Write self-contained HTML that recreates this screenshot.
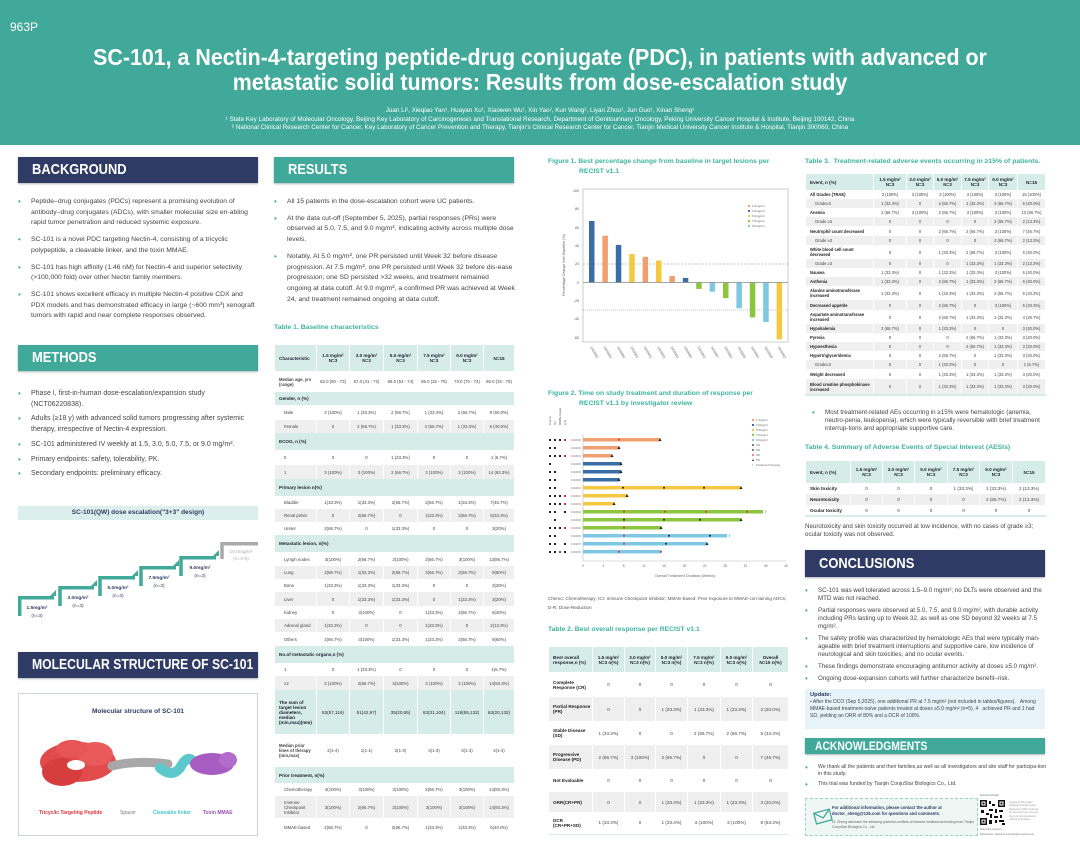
<!DOCTYPE html>
<html><head><meta charset="utf-8">
<style>
*{margin:0;padding:0;box-sizing:border-box}
body{width:1080px;height:856px;position:relative;background:#fff;font-family:"Liberation Sans",sans-serif;color:#333;overflow:hidden}
.a{position:absolute}
.hdr{position:absolute;color:#fff;font-weight:bold;font-size:15px;padding-left:14px;line-height:26px;height:26px;box-shadow:0 1px 2px rgba(0,0,0,.3);white-space:nowrap;overflow:hidden}
.hdr span{display:inline-block;transform:scaleX(.86);transform-origin:left center}
.navy{background:#2f3b64}.teal{background:#41a999}
ul.b{position:absolute;list-style:none;font-size:6.8px;line-height:10.7px;color:#444}
ul.b li{position:relative;padding-left:13px}
ul.b li:before{content:"•";position:absolute;left:0;color:#41a999;font-size:8px}
.tt{position:absolute;color:#3fb39f;font-weight:bold;font-size:6.8px;line-height:9.5px}
table{border-collapse:collapse;position:absolute;table-layout:fixed;font-size:4.3px;color:#444}
td{text-align:center;border-left:1px solid #fff;border-right:1px solid #fff;padding:0 1px;line-height:5px;overflow:hidden}
td:first-child{text-align:left;padding-left:4px}
.h td{background:#d6ece8;font-weight:bold;color:#223;font-size:4.6px}
.g td{background:#efefef}
.s td:first-child{padding-left:9px}
.ev td:first-child{font-weight:bold;color:#222}
</style></head><body>
<div class="a" style="left:0;top:0;width:1080px;height:145px;background:#41a999"></div>
<div class="a" style="left:10px;top:20px;color:#fff;font-size:12px">963P</div>
<div class="a" style="left:0;top:45px;width:1080px;text-align:center;color:#fff;font-weight:bold;font-size:23px;line-height:25px;white-space:nowrap;transform:scaleX(.93);transform-origin:540px 0">SC-101, a Nectin-4-targeting peptide-drug conjugate (PDC), in patients with advanced or<br>metastatic solid tumors: Results from dose-escalation study</div>
<div class="a" style="left:0;top:107px;width:1080px;text-align:center;color:#fff;font-size:6.3px;line-height:8.6px">Juan Li¹, Xieqiao Yan¹, Huayan Xu¹, Xiaowen Wu¹, Xin Yao², Kun Wang², Liyan Zhou¹, Jun Guo¹, Xinan Sheng¹<br>¹ State Key Laboratory of Molecular Oncology, Beijing Key Laboratory of Carcinogenesis and Translational Research, Department of Genitourinary Oncology, Peking University Cancer Hospital &amp; Institute, Beijing 100142, China<br>² National Clinical Research Center for Cancer, Key Laboratory of Cancer Prevention and Therapy, Tianjin's Clinical Research Center for Cancer, Tianjin Medical University Cancer Institute &amp; Hospital, Tianjin 300060, China</div>

<div class="hdr navy" style="left:18px;top:157px;width:240px"><span>BACKGROUND</span></div>
<ul class="b" style="left:18px;top:197px;width:240px">
<li style="margin-bottom:6px">Peptide–drug conjugates (PDCs) represent a promising evolution of antibody–drug conjugates (ADCs), with smaller molecular size en-abling rapid tumor penetration and reduced systemic exposure.</li>
<li style="margin-bottom:6px">SC-101 is a novel PDC targeting Nectin-4, consisting of a tricyclic polypeptide, a cleavable linker, and the toxin MMAE.</li>
<li style="margin-bottom:6px">SC-101 has high affinity (1.46 nM) for Nectin-4 and superior selectivity (&gt;100,000 fold) over other Nectin family members.</li>
<li>SC-101 shows excellent efficacy in multiple Nectin-4 positive CDX and PDX models and has demonstrated efficacy in large (~600 mm³) xenograft tumors with rapid and near complete responses observed.</li>
</ul>
<div class="hdr teal" style="left:18px;top:345px;width:240px"><span>METHODS</span></div>
<ul class="b" style="left:18px;top:389px;width:240px;font-size:7px">
<li style="margin-bottom:4px">Phase I, first-in-human dose-escalation/expansion study<br>(NCT06220838).</li>
<li style="margin-bottom:4px">Adults (≥18 y) with advanced solid tumors progressing after systemic<br>therapy, irrespective of Nectin-4 expression.</li>
<li style="margin-bottom:4px">SC-101 administered IV weekly at 1.5, 3.0, 5.0, 7.5, or 9.0 mg/m².</li>
<li style="margin-bottom:4px">Primary endpoints: safety, tolerability, PK.</li>
<li>Secondary endpoints: preliminary efficacy.</li>
</ul>
<div class="a" style="left:18px;top:506px;width:240px;height:14px;background:#dcefec;text-align:center;font-size:6.5px;font-weight:bold;color:#2f3b64;line-height:14px">SC-101(QW) dose escalation("3+3" design)</div>
<div class="hdr navy" style="left:18px;top:652px;width:240px;font-size:14.5px"><span style="transform:scaleX(.84)">MOLECULAR STRUCTURE OF SC-101</span></div>
<div class="a" style="left:18px;top:693px;width:240px;height:143px;border:1px solid #cfd3dd"></div>
<div class="a" style="left:18px;top:708px;width:240px;text-align:center;font-size:6.5px;font-weight:bold;color:#2f3b64">Molecular structure of SC-101</div>
<div class="a" style="left:39px;top:810px;font-size:5px;font-weight:bold;color:#d9343d">Tricyclic Targeting Peptide</div>
<div class="a" style="left:120px;top:810px;font-size:5px;color:#777">Spacer</div>
<div class="a" style="left:153px;top:810px;font-size:5px;font-weight:bold;color:#4ac2c8">Cleavable linker</div>
<div class="a" style="left:203px;top:810px;font-size:5px;font-weight:bold;color:#9b4fb0">Toxin MMAE</div>

<div class="hdr teal" style="left:274px;top:157px;width:240px"><span>RESULTS</span></div>
<ul class="b" style="left:274px;top:197px;width:241px">
<li style="margin-bottom:6px">All 15 patients in the dose-escalation cohort were UC patients.</li>
<li style="margin-bottom:6px">At the data cut-off (September 5, 2025), partial responses (PRs) were observed at 5.0, 7.5, and 9.0 mg/m², indicating activity across multiple dose levels.</li>
<li>Notably, At 5.0 mg/m², one PR persisted until Week 32 before disease progression. At 7.5 mg/m², one PR persisted until Week 32 before dis-ease progression; one SD persisted &gt;32 weeks, and treatment remained ongoing at data cutoff. At 9.0 mg/m², a confirmed PR was achieved at Week 24, and treatment remained ongoing at data cutoff.</li>
</ul>
<div class="tt" style="left:274px;top:323px">Table 1. Baseline characteristics</div>
<table style="left:274px;top:345px;width:240px">
<colgroup><col style="width:42px"><col style="width:33px"><col style="width:34px"><col style="width:34px"><col style="width:33px"><col style="width:33px"><col style="width:31px"></colgroup>
<tr class="h" style="height:26px"><td>Characteristic</td><td>1.5 mg/m²<br>N=3</td><td>3.0 mg/m²<br>N=3</td><td>5.0 mg/m²<br>N=3</td><td>7.5 mg/m²<br>N=3</td><td>9.0 mg/m²<br>N=3</td><td>N=15</td></tr>
<tr style="height:21px"><td style="font-weight:bold">Median age, yrs (range)</td><td>63.0 (60 - 73)</td><td>57.0 (41 - 72)</td><td>66.0 (53 - 74)</td><td>55.0 (32 - 75)</td><td>73.0 (70 - 74)</td><td>66.0 (32 - 75)</td></tr>
<tr class="h" style="height:13px"><td colspan="7">Gender, n (%)</td></tr>
<tr class="s" style="height:15px"><td>Male</td><td>3 (100%)</td><td>1 (33.3%)</td><td>2 (66.7%)</td><td>1 (33.3%)</td><td>2 (66.7%)</td><td>9 (60.0%)</td></tr>
<tr class="s g" style="height:13px"><td>Female</td><td>0</td><td>2 (66.7%)</td><td>1 (33.3%)</td><td>2 (66.7%)</td><td>1 (33.3%)</td><td>6 (40.0%)</td></tr>
<tr class="h" style="height:17px"><td colspan="7">ECOG, n (%)</td></tr>
<tr class="s" style="height:15px"><td>0</td><td>0</td><td>0</td><td>1 (33.3%)</td><td>0</td><td>0</td><td>1 (6.7%)</td></tr>
<tr class="s g" style="height:14px"><td>1</td><td>3 (100%)</td><td>3 (100%)</td><td>2 (66.7%)</td><td>3 (100%)</td><td>3 (100%)</td><td>14 (93.3%)</td></tr>
<tr class="h" style="height:17px"><td colspan="7">Primary lesion n(%)</td></tr>
<tr class="s" style="height:13px"><td>Bladder</td><td>1(33.3%)</td><td>1(33.3%)</td><td>2(66.7%)</td><td>2(66.7%)</td><td>1(33.3%)</td><td>7(46.7%)</td></tr>
<tr class="s g" style="height:13px"><td>Renal pelvis</td><td>0</td><td>2(66.7%)</td><td>0</td><td>1(33.3%)</td><td>2(66.7%)</td><td>5(33.3%)</td></tr>
<tr class="s" style="height:13px"><td>Ureter</td><td>2(66.7%)</td><td>0</td><td>1(33.3%)</td><td>0</td><td>0</td><td>3(20%)</td></tr>
<tr class="h" style="height:17px"><td colspan="7">Metastatic lesion, n(%)</td></tr>
<tr class="s" style="height:14px"><td>Lymph nodes</td><td>3(100%)</td><td>2(66.7%)</td><td>3(100%)</td><td>2(66.7%)</td><td>3(100%)</td><td>13(86.7%)</td></tr>
<tr class="s g" style="height:13px"><td>Lung</td><td>2(66.7%)</td><td>1(33.3%)</td><td>2(66.7%)</td><td>2(66.7%)</td><td>2(66.7%)</td><td>9(60%)</td></tr>
<tr class="s" style="height:13px"><td>Bone</td><td>1(33.3%)</td><td>1(33.3%)</td><td>1(33.3%)</td><td>0</td><td>0</td><td>3(20%)</td></tr>
<tr class="s g" style="height:14px"><td>Liver</td><td>0</td><td>1(33.3%)</td><td>1(33.3%)</td><td>0</td><td>1(33.3%)</td><td>3(20%)</td></tr>
<tr class="s" style="height:13px"><td>Kidney</td><td>0</td><td>3(100%)</td><td>0</td><td>1(33.3%)</td><td>2(66.7%)</td><td>6(40%)</td></tr>
<tr class="s g" style="height:13px"><td>Adrenal gland</td><td>1(33.3%)</td><td>0</td><td>0</td><td>1(33.3%)</td><td>0</td><td>2(13.3%)</td></tr>
<tr class="s" style="height:14px"><td>Others</td><td>2(66.7%)</td><td>3(100%)</td><td>1(33.3%)</td><td>1(33.3%)</td><td>2(66.7%)</td><td>9(60%)</td></tr>
<tr class="h" style="height:17px"><td colspan="7">No.of metastatic organs,n (%)</td></tr>
<tr class="s" style="height:13px"><td>1</td><td>0</td><td>1 (33.3%)</td><td>0</td><td>0</td><td>0</td><td>1(6.7%)</td></tr>
<tr class="s g" style="height:14px"><td>≥2</td><td>3 (100%)</td><td>2(66.7%)</td><td>3(100%)</td><td>3 (100%)</td><td>3 (100%)</td><td>14(93.3%)</td></tr>
<tr class="h" style="height:44px"><td>The sum of target lesion diameters, median (min,max)(mm)</td><td style="font-weight:normal">82(57,116)</td><td style="font-weight:normal">51(42,97)</td><td style="font-weight:normal">35(20,65)</td><td style="font-weight:normal">63(31,104)</td><td style="font-weight:normal">119(55,132)</td><td style="font-weight:normal">63(20,132)</td></tr>
<tr style="height:33px"><td style="font-weight:bold">Median prior lines of therapy (min,max)</td><td>2(1-4)</td><td>1(1-1)</td><td>2(1-3)</td><td>3(1-3)</td><td>3(1-3)</td><td>2(1-4)</td></tr>
<tr class="h" style="height:16px"><td colspan="7">Prior treatment, n(%)</td></tr>
<tr class="s" style="height:13px"><td>Chemotherapy</td><td>3(100%)</td><td>3(100%)</td><td>3(100%)</td><td>2(66.7%)</td><td>3(100%)</td><td>14(93.3%)</td></tr>
<tr class="s g" style="height:22px"><td>Immune Checkpoint Inhibitor</td><td>3(100%)</td><td>2(66.7%)</td><td>3(100%)</td><td>3(100%)</td><td>3(100%)</td><td>14(93.3%)</td></tr>
<tr class="s" style="height:18px"><td>MMAE-based</td><td>2(66.7%)</td><td>0</td><td>2(66.7%)</td><td>1(33.3%)</td><td>1(33.3%)</td><td>6(40.0%)</td></tr>
</table>

<div class="tt" style="left:548px;top:157px;width:240px">Figure 1. Best percentage change from baseline in target lesions per<br><span style="padding-left:31px">RECIST v1.1</span></div>
<div class="tt" style="left:548px;top:389px;width:240px">Figure 2. Time on study treatment and duration of response per<br><span style="padding-left:31px">RECIST v1.1 by investigator review</span></div>
<div class="a" style="left:548px;top:594px;width:240px;font-size:4.6px;line-height:9px;color:#555">Chemo: Chemotherapy; ICI: Immune Checkpoint Inhibitor; MMAE-based: Prior exposure to MMAE-con-taining ADCs; D-R: Dose-Reduction</div>
<div class="tt" style="left:548px;top:625px">Table 2. Best overall response per RECIST v1.1</div>
<table style="left:548px;top:647px;width:240px;font-size:4.6px">
<colgroup><col style="width:44px"><col style="width:32px"><col style="width:31px"><col style="width:32px"><col style="width:33px"><col style="width:32px"><col style="width:36px"></colgroup>
<tr class="h" style="height:25px"><td>Best overall response,n (%)</td><td>1.5 mg/m²<br>N=3 n(%)</td><td>3.0 mg/m²<br>N=3 n(%)</td><td>5.0 mg/m²<br>N=3 n(%)</td><td>7.5 mg/m²<br>N=3 n(%)</td><td>9.0 mg/m²<br>N=3 n(%)</td><td>Overall<br>N=15 n(%)</td></tr>
<tr class="ev" style="height:25px"><td>Complete Response (CR)</td><td>0</td><td>0</td><td>0</td><td>0</td><td>0</td><td>0</td></tr>
<tr class="ev g" style="height:24px"><td>Partial Response (PR)</td><td>0</td><td>0</td><td>1 (33.3%)</td><td>1 (33.3%)</td><td>1 (33.3%)</td><td>3 (20.0%)</td></tr>
<tr class="ev" style="height:24px"><td>Stable Disease (SD)</td><td>1 (33.3%)</td><td>0</td><td>0</td><td>2 (66.7%)</td><td>2 (66.7%)</td><td>5 (33.3%)</td></tr>
<tr class="ev g" style="height:24px"><td>Progressive Disease (PD)</td><td>2 (66.7%)</td><td>3 (100%)</td><td>2 (66.7%)</td><td>0</td><td>0</td><td>7 (46.7%)</td></tr>
<tr class="ev" style="height:23px"><td>Not Evaluable</td><td>0</td><td>0</td><td>0</td><td>0</td><td>0</td><td>0</td></tr>
<tr class="ev g" style="height:20px"><td>ORR(CR+PR)</td><td>0</td><td>0</td><td>1 (33.3%)</td><td>1 (33.3%)</td><td>1 (33.3%)</td><td>3 (20.0%)</td></tr>
<tr class="ev" style="height:22px;border-bottom:1px solid #d6ece8"><td>DCR (CR+PR+SD)</td><td>1 (33.3%)</td><td>0</td><td>1 (33.3%)</td><td>3 (100%)</td><td>3 (100%)</td><td>8 (53.3%)</td></tr>
</table>

<div class="tt" style="left:805px;top:157px">Table 3. &nbsp;Treatment-related adverse events occurring in ≥15% of patients.</div>
<table style="left:805px;top:174px;width:240px;font-size:4.1px">
<colgroup><col style="width:68px"><col style="width:33px"><col style="width:27px"><col style="width:28px"><col style="width:27px"><col style="width:29px"><col style="width:28px"></colgroup>
<tr class="h" style="height:16px"><td>Event, n (%)</td><td>1.5 mg/m²<br>N=3</td><td>3.0 mg/m²<br>N=3</td><td>5.0 mg/m²<br>N=3</td><td>7.5 mg/m²<br>N=3</td><td>9.0 mg/m²<br>N=3</td><td>N=15</td></tr>
<tr class="ev" style="height:9px"><td>All Grades (TRAE)</td><td>3 (100%)</td><td>3 (100%)</td><td>3 (100%)</td><td>3 (100%)</td><td>3 (100%)</td><td>15 (100%)</td></tr>
<tr class="s g" style="height:9px"><td>Grade≥3</td><td>1 (33.3%)</td><td>0</td><td>2 (66.7%)</td><td>1 (33.3%)</td><td>2 (66.7%)</td><td>6 (40.0%)</td></tr>
<tr class="ev" style="height:9px"><td>Anemia</td><td>2 (66.7%)</td><td>3 (100%)</td><td>2 (66.7%)</td><td>3 (100%)</td><td>3 (100%)</td><td>13 (86.7%)</td></tr>
<tr class="s g" style="height:9px"><td>Grade ≥3</td><td>0</td><td>0</td><td>0</td><td>0</td><td>2 (66.7%)</td><td>2 (13.3%)</td></tr>
<tr class="ev" style="height:10px"><td>Neutrophil count decreased</td><td>0</td><td>0</td><td>2 (66.7%)</td><td>2 (66.7%)</td><td>3 (100%)</td><td>7 (46.7%)</td></tr>
<tr class="s g" style="height:9px"><td>Grade ≥3</td><td>0</td><td>0</td><td>0</td><td>0</td><td>2 (66.7%)</td><td>2 (13.3%)</td></tr>
<tr class="ev" style="height:14px"><td>White blood cell count decreased</td><td>0</td><td>0</td><td>1 (33.3%)</td><td>2 (66.7%)</td><td>3 (100%)</td><td>6 (40.0%)</td></tr>
<tr class="s g" style="height:9px"><td>Grade ≥3</td><td>0</td><td>0</td><td>0</td><td>1 (33.3%)</td><td>1 (33.3%)</td><td>2 (13.3%)</td></tr>
<tr class="ev" style="height:9px"><td>Nausea</td><td>1 (33.3%)</td><td>0</td><td>1 (33.3%)</td><td>1 (33.3%)</td><td>3 (100%)</td><td>6 (40.0%)</td></tr>
<tr class="ev g" style="height:9px"><td>Asthenia</td><td>1 (33.3%)</td><td>0</td><td>2 (66.7%)</td><td>1 (33.3%)</td><td>2 (66.7%)</td><td>6 (40.0%)</td></tr>
<tr class="ev" style="height:14px"><td>Alanine aminotransferase increased</td><td>1 (33.3%)</td><td>0</td><td>1 (33.3%)</td><td>1 (33.3%)</td><td>2 (66.7%)</td><td>5 (33.3%)</td></tr>
<tr class="ev g" style="height:10px"><td>Decreased appetite</td><td>0</td><td>0</td><td>2 (66.7%)</td><td>0</td><td>3 (100%)</td><td>5 (33.3%)</td></tr>
<tr class="ev" style="height:14px"><td>Aspartate aminotransferase increased</td><td>0</td><td>0</td><td>2 (66.7%)</td><td>1 (33.3%)</td><td>1 (33.3%)</td><td>4 (26.7%)</td></tr>
<tr class="ev g" style="height:9px"><td>Hypokalemia</td><td>2 (66.7%)</td><td>0</td><td>1 (33.3%)</td><td>0</td><td>0</td><td>3 (20.0%)</td></tr>
<tr class="ev" style="height:9px"><td>Pyrexia</td><td>0</td><td>0</td><td>0</td><td>2 (66.7%)</td><td>1 (33.3%)</td><td>3 (20.0%)</td></tr>
<tr class="ev g" style="height:9px"><td>Hypoesthesia</td><td>0</td><td>0</td><td>0</td><td>2 (66.7%)</td><td>1 (33.3%)</td><td>3 (20.0%)</td></tr>
<tr class="ev" style="height:9px"><td>Hypertriglyceridemia</td><td>0</td><td>0</td><td>2 (66.7%)</td><td>0</td><td>1 (33.3%)</td><td>3 (20.0%)</td></tr>
<tr class="s g" style="height:9px"><td>Grade≥3</td><td>0</td><td>0</td><td>1 (33.3%)</td><td>0</td><td>0</td><td>1 (6.7%)</td></tr>
<tr class="ev" style="height:10px"><td>Weight decreased</td><td>0</td><td>0</td><td>1 (33.3%)</td><td>1 (33.3%)</td><td>1 (33.3%)</td><td>3 (20.0%)</td></tr>
<tr class="ev g" style="height:16px;border-bottom:2px solid #d6ece8"><td>Blood creatine phosphokinase increased</td><td>0</td><td>0</td><td>1 (33.3%)</td><td>1 (33.3%)</td><td>1 (33.3%)</td><td>3 (20.0%)</td></tr>
</table>
<ul class="b" style="left:812px;top:409px;width:232px;font-size:6.3px;line-height:8px"><li>Most treatment-related AEs occurring in ≥15% were hematologic (anemia, neutro-penia, leukopenia), which were typically reversible with brief treatment interrup-tions and appropriate supportive care.</li></ul>
<div class="tt" style="left:805px;top:443px">Table 4. Summary of Adverse Events of Special Interest (AESIs)</div>
<table style="left:805px;top:461px;width:240px;font-size:4.6px">
<colgroup><col style="width:45px"><col style="width:32px"><col style="width:32px"><col style="width:33px"><col style="width:32px"><col style="width:33px"><col style="width:33px"></colgroup>
<tr class="h" style="height:22px"><td>Event, n (%)</td><td>1.5 mg/m²<br>N=3</td><td>3.0 mg/m²<br>N=3</td><td>5.0 mg/m²<br>N=3</td><td>7.5 mg/m²<br>N=3</td><td>9.0 mg/m²<br>N=3</td><td>N=15</td></tr>
<tr class="ev" style="height:11px"><td>Skin toxicity</td><td>0</td><td>0</td><td>0</td><td>1 (33.3%)</td><td>1 (33.3%)</td><td>2 (13.3%)</td></tr>
<tr class="ev g" style="height:11px"><td>Neurotoxicity</td><td>0</td><td>0</td><td>0</td><td>0</td><td>2 (66.7%)</td><td>2 (13.3%)</td></tr>
<tr class="ev" style="height:11px;border-bottom:2px solid #d6ece8"><td>Ocular toxicity</td><td>0</td><td>0</td><td>0</td><td>0</td><td>0</td><td>0</td></tr>
</table>
<div class="a" style="left:805px;top:523px;width:240px;font-size:6.2px;line-height:8px;color:#444">Neurotoxicity and skin toxicity occurred at low incidence, with no cases of grade ≥3; ocular toxicity was not observed.</div>
<div class="hdr navy" style="left:805px;top:550px;width:240px;height:27px;line-height:27px"><span>CONCLUSIONS</span></div>
<ul class="b" style="left:805px;top:587px;width:240px;font-size:6.2px;line-height:8px">
<li style="margin-bottom:4px">SC-101 was well tolerated across 1.5–9.0 mg/m²; no DLTs were observed and the MTD was not reached.</li>
<li style="margin-bottom:4px">Partial responses were observed at 5.0, 7.5, and 9.0 mg/m², with durable activity including PRs lasting up to Week 32, as well as one SD beyond 32 weeks at 7.5 mg/m².</li>
<li style="margin-bottom:4px">The safety profile was characterized by hematologic AEs that were typically man-ageable with brief treatment interruptions and supportive care, low incidence of neurological and skin toxicities, and no ocular events.</li>
<li style="margin-bottom:4px">These findings demonstrate encouraging antitumor activity at doses ≥5.0 mg/m².</li>
<li>Ongoing dose-expansion cohorts will further characterize benefit–risk.</li>
</ul>
<div class="a" style="left:805px;top:689px;width:240px;height:40px;background:#e6f3f8;padding:3px 5px;font-size:5px;line-height:7px;color:#444"><b style="color:#2f3b64;font-size:5.8px">Update:</b><br>• After the DCO (Sep 5,2025), one additional PR at 7.5 mg/m² (not included in tables/figures). &nbsp;&nbsp;Among MMAE-based treatment-naïve patients treated at doses ≥5.0 mg/m² (n=5), 4 &nbsp;&nbsp;achieved PR and 1 had SD, yielding an ORR of 80% and a DCR of 100%.</div>
<div class="hdr teal" style="left:805px;top:738px;width:240px;height:16px;line-height:16px;font-size:12px;padding-left:10px"><span>ACKNOWLEDGMENTS</span></div>
<ul class="b" style="left:805px;top:764px;width:243px;font-size:5.2px;line-height:7px">
<li style="margin-bottom:3px">We thank all the patients and their families,as well as all investigators and site staff for participa-tion in this study.</li>
<li>This trial was funded by Tianjin ConjuStar Biologics Co., Ltd.</li></ul>
<div class="a" style="left:805px;top:798px;width:173px;height:38px;border:1px dashed #9fd3c8;background:#eef7f4"></div>
<div class="a" style="left:832px;top:805px;width:145px;font-size:4.2px;line-height:5.5px;color:#2f3b64;font-weight:bold">For additional information, please contact the author at doctor_sheng@126.com for questions and comments.</div>
<div class="a" style="left:832px;top:820px;width:145px;font-size:3.4px;line-height:4.5px;color:#666">Dr. Sheng discloses the following potential conflicts of interest: institutional funding from Tianjin ConjuStar Biologics Co., Ltd.</div>
<div class="a" style="left:980px;top:793px;font-size:3px;color:#666">Access Poster</div>
<div class="a" style="left:1009px;top:801px;width:32px;font-size:2.6px;line-height:3.4px;color:#999">Copies of this poster obtained through Quick Response (QR) Code are for personal use only and may not be reproduced without permission.</div>

<svg class="a" style="left:0;top:0" width="1080" height="856" viewBox="0 0 1080 856" font-family="Liberation Sans, sans-serif">
<g fill="none" stroke="#41a999" stroke-width="3.5">
<path d="M19.7,616 V597.7 H54"/><path d="M60,606 V587.7 H94"/><path d="M100,596 V577.7 H135"/><path d="M141,586 V567.7 H176"/><path d="M181,576 V557.7 H216"/>
</g>
<g fill="#41a999"><path d="M50,596 L56,590 V596Z"/><path d="M91,586 L97,580 V586Z"/><path d="M132,576 L138,570 V576Z"/><path d="M173,566 L179,560 V566Z"/><path d="M213,556 L219,550 V556Z"/></g>
<path d="M222,559 V543.7 H258" fill="none" stroke="#aaa" stroke-width="3.5"/>
<g font-size="4.8" font-weight="bold" fill="#2f3b64" text-anchor="middle">
<text x="37" y="609">1.5mg/m²</text><text x="37" y="617" font-weight="normal">(n=3)</text>
<text x="78" y="599">3.0mg/m²</text><text x="78" y="607" font-weight="normal">(n=3)</text>
<text x="118" y="589">5.0mg/m²</text><text x="118" y="597" font-weight="normal">(n=3)</text>
<text x="159" y="579">7.5mg/m²</text><text x="159" y="587" font-weight="normal">(n=3)</text>
<text x="200" y="569">9.0mg/m²</text><text x="200" y="577" font-weight="normal">(n=3)</text>
<text x="241" y="553" fill="#aaa" font-weight="normal">10.0mg/m²</text><text x="241" y="560" fill="#aaa" font-weight="normal">(n=3-6)</text>
</g>
<g>
<ellipse cx="78" cy="762" rx="38" ry="20" fill="#e24b4b"/><ellipse cx="62" cy="772" rx="20" ry="14" fill="#d63d3d"/><ellipse cx="95" cy="754" rx="18" ry="12" fill="#ea5a5a"/><ellipse cx="72" cy="749" rx="16" ry="9" fill="#e85555"/><ellipse cx="76" cy="765" rx="9" ry="5" fill="#fff"/>
<path d="M112,766 Q135,760 168,764" stroke="#a8a8a8" stroke-width="9" fill="none" stroke-linecap="round"/>
<path d="M160,768 Q172,778 180,768 Q186,756 192,760" stroke="#5cc8cc" stroke-width="10" fill="none" stroke-linecap="round"/>
<ellipse cx="212" cy="764" rx="22" ry="11" fill="#a65cc0"/><ellipse cx="228" cy="760" rx="9" ry="8" fill="#b36bcc"/>
</g>
<rect x="583" y="189" width="205" height="153" fill="#fff" stroke="#ccc" stroke-width="1"/>
<g font-size="3.6" fill="#555" text-anchor="end">
<text x="579" y="192">100</text><text x="579" y="210">80</text><text x="579" y="229">60</text><text x="579" y="247">40</text><text x="579" y="265">20</text><text x="579" y="284">0</text><text x="579" y="302">-20</text><text x="579" y="320">-40</text><text x="579" y="339">-60</text>
</g>
<text transform="translate(565,265) rotate(-90)" font-size="3.6" fill="#555" text-anchor="middle">Percentage Change from Baseline (%)</text>
<line x1="583" y1="264" x2="788" y2="264" stroke="#888" stroke-dasharray="2,1.5" stroke-width=".6"/>
<line x1="583" y1="310" x2="788" y2="310" stroke="#888" stroke-dasharray="1,1" stroke-width=".6"/>
<g>
<rect x="589" y="221" width="5.5" height="61.5" fill="#3a6ea5"/>
<rect x="602.4" y="235.7" width="5.5" height="46.8" fill="#f0a070"/>
<rect x="615.8" y="244.9" width="5.5" height="37.6" fill="#3a6ea5"/>
<rect x="629.2" y="254" width="5.5" height="28.5" fill="#f5c842"/>
<rect x="642.6" y="256.8" width="5.5" height="25.7" fill="#f0a070"/>
<rect x="656" y="260.5" width="5.5" height="22" fill="#f5c842"/>
<rect x="669.4" y="276" width="5.5" height="6.5" fill="#f0a070"/>
<rect x="682.8" y="277.9" width="5.5" height="4.6" fill="#3a6ea5"/>
<rect x="696.2" y="282.5" width="5.5" height="6.4" fill="#8cc63f"/>
<rect x="709.6" y="282.5" width="5.5" height="9.2" fill="#7ec8e3"/>
<rect x="723" y="282.5" width="5.5" height="15.6" fill="#8cc63f"/>
<rect x="736.4" y="282.5" width="5.5" height="25.7" fill="#7ec8e3"/>
<rect x="749.8" y="282.5" width="5.5" height="34.9" fill="#8cc63f"/>
<rect x="763.2" y="282.5" width="5.5" height="39.5" fill="#7ec8e3"/>
<rect x="776.6" y="282.5" width="5.5" height="56.9" fill="#f5c842"/>
</g>
<line x1="583" y1="282.5" x2="788" y2="282.5" stroke="#888" stroke-width=".8"/>
<g font-size="3" fill="#666">
<rect x="748" y="205" width="2" height="2" fill="#f0a070"/><text x="752" y="207">1.5mg/m²</text>
<rect x="748" y="210" width="2" height="2" fill="#3a6ea5"/><text x="752" y="212">3.0mg/m²</text>
<rect x="748" y="215" width="2" height="2" fill="#f5c842"/><text x="752" y="217">5.0mg/m²</text>
<rect x="748" y="220" width="2" height="2" fill="#8cc63f"/><text x="752" y="222">7.5mg/m²</text>
<rect x="748" y="225" width="2" height="2" fill="#7ec8e3"/><text x="752" y="227">9.0mg/m²</text>
</g>
<g font-size="3.4" fill="#666">
<text transform="translate(590,347) rotate(60)">1010002</text><text transform="translate(603.4,347) rotate(60)">1010003</text><text transform="translate(616.8,347) rotate(60)">1010006</text><text transform="translate(630.2,347) rotate(60)">1010001</text><text transform="translate(643.6,347) rotate(60)">1010001</text><text transform="translate(657,347) rotate(60)">1010003</text><text transform="translate(670.4,347) rotate(60)">1010002</text><text transform="translate(683.8,347) rotate(60)">1010004</text><text transform="translate(697.2,347) rotate(60)">1010003</text><text transform="translate(710.6,347) rotate(60)">1010007</text><text transform="translate(724,347) rotate(60)">1010004</text><text transform="translate(737.4,347) rotate(60)">1010008</text><text transform="translate(750.8,347) rotate(60)">1010002</text><text transform="translate(764.2,347) rotate(60)">1010009</text><text transform="translate(777.6,347) rotate(60)">1010002</text>
</g>
<g font-size="2.8" fill="#555">
<text transform="translate(551,425) rotate(-90)">Chemo</text><text transform="translate(556,425) rotate(-90)">ICI</text><text transform="translate(561,425) rotate(-90)">MMAE-based</text><text transform="translate(566,425) rotate(-90)">D-R</text>
</g>
<line x1="583" y1="434" x2="583" y2="561" stroke="#bbb" stroke-width=".6"/>
<line x1="583" y1="561" x2="786" y2="561" stroke="#bbb" stroke-width=".6"/>
<g font-size="3.2" fill="#666" text-anchor="middle">
<text x="583" y="567">0</text><text x="603.3" y="567">4</text><text x="623.6" y="567">8</text><text x="643.9" y="567">12</text><text x="664.2" y="567">16</text><text x="684.5" y="567">20</text><text x="704.8" y="567">24</text><text x="725.1" y="567">28</text><text x="745.4" y="567">32</text><text x="765.7" y="567">36</text><text x="786" y="567">40</text>
<text x="685" y="577" font-size="3.8">Overall Treatment Duration (Weeks)</text>
</g>
<g>
<rect x="583" y="438" width="77" height="3.5" fill="#f0a070"/>
<rect x="583" y="446" width="36" height="3.5" fill="#f0a070"/>
<rect x="583" y="454" width="29" height="3.5" fill="#f0a070"/>
<rect x="583" y="462" width="38" height="3.5" fill="#3a6ea5"/>
<rect x="583" y="470" width="38" height="3.5" fill="#3a6ea5"/>
<rect x="583" y="478" width="36" height="3.5" fill="#3a6ea5"/>
<rect x="583" y="486" width="158" height="3.5" fill="#f5c842"/>
<rect x="583" y="494" width="44" height="3.5" fill="#f5c842"/>
<rect x="583" y="502" width="31" height="3.5" fill="#f5c842"/>
<rect x="583" y="510" width="180" height="3.5" fill="#8cc63f"/>
<rect x="583" y="518" width="158" height="3.5" fill="#8cc63f"/>
<rect x="583" y="526" width="78" height="3.5" fill="#8cc63f"/>
<rect x="583" y="534" width="144" height="3.5" fill="#7ec8e3"/>
<rect x="583" y="542" width="124" height="3.5" fill="#7ec8e3"/>
<rect x="583" y="550" width="78" height="3.5" fill="#7ec8e3"/>
</g>
<g fill="#222">
<path d="M660,438l1.5,3h-3z"/><path d="M619,446l1.5,3h-3z"/><path d="M612,454l1.5,3h-3z"/><path d="M621,462l1.5,3h-3z"/><path d="M621,470l1.5,3h-3z"/><path d="M619,478l1.5,3h-3z"/><path d="M741,486l1.5,3h-3z"/><path d="M627,494l1.5,3h-3z"/><path d="M614,502l1.5,3h-3z"/><path d="M741,518l1.5,3h-3z"/><path d="M661,526l1.5,3h-3z"/><path d="M707,542l1.5,3h-3z"/>
<circle cx="623" cy="487.7" r="1"/><circle cx="664" cy="487.7" r="1"/><circle cx="704" cy="487.7" r="1"/><circle cx="624" cy="519.7" r="1"/><circle cx="664" cy="519.7" r="1"/><circle cx="700" cy="519.7" r="1"/><circle cx="669" cy="535.7" r="1"/><circle cx="710" cy="535.7" r="1"/><circle cx="666" cy="543.7" r="1"/>
</g>
<g fill="#d33"><circle cx="619" cy="439.7" r="1"/><circle cx="624" cy="511.7" r="1"/><circle cx="665" cy="511.7" r="1"/><circle cx="706" cy="511.7" r="1"/><circle cx="747" cy="511.7" r="1"/><circle cx="624" cy="527.7" r="1"/><circle cx="624" cy="535.7" r="1"/><circle cx="624" cy="543.7" r="1"/><circle cx="619" cy="551.7" r="1"/><circle cx="661" cy="551.7" r="1"/></g>
<g fill="#7ec8e3"><path d="M765,510l1.5,1.75-1.5,1.75z"/><path d="M729,534l1.5,1.75-1.5,1.75z"/></g>
<g fill="#222">
<rect x="549" y="439" width="2" height="2"/><rect x="554" y="439" width="2" height="2"/><rect x="559" y="439" width="2" height="2"/><rect x="564" y="439" width="2" height="2" fill="#d33"/>
<rect x="549" y="447" width="2" height="2"/><rect x="554" y="447" width="2" height="2"/>
<rect x="549" y="455" width="2" height="2"/><rect x="554" y="455" width="2" height="2"/><rect x="559" y="455" width="2" height="2"/><rect x="564" y="455" width="2" height="2" fill="#d33"/>
<rect x="549" y="463" width="2" height="2"/>
<rect x="549" y="471" width="2" height="2"/><rect x="554" y="471" width="2" height="2"/>
<rect x="549" y="479" width="2" height="2"/><rect x="554" y="479" width="2" height="2"/>
<rect x="549" y="487" width="2" height="2"/><rect x="554" y="487" width="2" height="2"/>
<rect x="549" y="495" width="2" height="2"/><rect x="554" y="495" width="2" height="2"/><rect x="559" y="495" width="2" height="2"/><rect x="564" y="495" width="2" height="2" fill="#d33"/>
<rect x="549" y="503" width="2" height="2"/><rect x="554" y="503" width="2" height="2"/><rect x="559" y="503" width="2" height="2"/><rect x="564" y="503" width="2" height="2" fill="#d33"/>
<rect x="549" y="511" width="2" height="2"/><rect x="554" y="511" width="2" height="2"/><rect x="564" y="511" width="2" height="2"/>
<rect x="554" y="519" width="2" height="2"/>
<rect x="549" y="527" width="2" height="2"/><rect x="554" y="527" width="2" height="2"/><rect x="559" y="527" width="2" height="2"/><rect x="564" y="527" width="2" height="2" fill="#d33"/>
<rect x="549" y="535" width="2" height="2"/><rect x="554" y="535" width="2" height="2"/>
<rect x="549" y="543" width="2" height="2"/><rect x="554" y="543" width="2" height="2"/><rect x="564" y="543" width="2" height="2"/>
<rect x="549" y="551" width="2" height="2"/><rect x="554" y="551" width="2" height="2"/><rect x="559" y="551" width="2" height="2" fill="#d33"/><rect x="564" y="551" width="2" height="2"/>
</g>
<g font-size="2.6" fill="#777" text-anchor="end">
<text x="581" y="441">1010002</text><text x="581" y="449">1010003</text><text x="581" y="457">1010001</text><text x="581" y="465">1010006</text><text x="581" y="473">1010005</text><text x="581" y="481">1010004</text><text x="581" y="489">1010001</text><text x="581" y="497">1010001</text><text x="581" y="505">1010003</text><text x="581" y="513">1010002</text><text x="581" y="521">1010003</text><text x="581" y="529">1010004</text><text x="581" y="537">1010006</text><text x="581" y="545">1010007</text><text x="581" y="553">1010003</text>
</g>
<g font-size="2.8" fill="#666">
<rect x="752" y="419" width="2" height="2" fill="#f0a070"/><text x="756" y="421">1.5mg/m²</text>
<rect x="752" y="424" width="2" height="2" fill="#3a6ea5"/><text x="756" y="426">3.0mg/m²</text>
<rect x="752" y="429" width="2" height="2" fill="#f5c842"/><text x="756" y="431">5.0mg/m²</text>
<rect x="752" y="434" width="2" height="2" fill="#8cc63f"/><text x="756" y="436">7.5mg/m²</text>
<rect x="752" y="439" width="2" height="2" fill="#7ec8e3"/><text x="756" y="441">9.0mg/m²</text>
<circle cx="753" cy="445" r=".9" fill="#222"/><text x="756" y="446">CR</text>
<circle cx="753" cy="450" r=".9" fill="#222"/><text x="756" y="451">PR</text>
<circle cx="753" cy="455" r=".9" fill="#d33"/><text x="756" y="456">SD</text>
<path d="M753,459l1,2h-2z" fill="#222"/><text x="756" y="461">PD</text>
<path d="M752,464l1.5,1-1.5,1z" fill="#7ec8e3"/><text x="756" y="466">Treatment Ongoing</text>
</g>
<g stroke="#41a999" stroke-width="1.3" fill="none" transform="rotate(-15 823 817)"><rect x="815" y="811" width="16" height="11"/><path d="M815,811 L823,818 L831,811"/></g>
<rect x="980" y="800" width="25" height="25" fill="#fff"/>
<g fill="#111">
<rect x="980" y="800" width="7" height="7"/><rect x="998" y="800" width="7" height="7"/><rect x="980" y="818" width="7" height="7"/>
<rect x="989" y="801" width="2" height="3"/><rect x="992" y="804" width="3" height="2"/><rect x="989" y="809" width="4" height="2"/><rect x="995" y="809" width="2" height="4"/><rect x="999" y="810" width="4" height="2"/><rect x="981" y="810" width="3" height="3"/><rect x="986" y="813" width="3" height="2"/><rect x="990" y="814" width="2" height="4"/><rect x="994" y="816" width="4" height="2"/><rect x="1000" y="815" width="2" height="3"/><rect x="989" y="820" width="3" height="4"/><rect x="995" y="820" width="2" height="3"/><rect x="999" y="820" width="5" height="2"/><rect x="1002" y="823" width="3" height="2"/>
</g>
<g fill="#fff"><rect x="981.5" y="801.5" width="4" height="4"/><rect x="999.5" y="801.5" width="4" height="4"/><rect x="981.5" y="819.5" width="4" height="4"/></g>
<g fill="#111"><rect x="982.5" y="802.5" width="2" height="2"/><rect x="1000.5" y="802.5" width="2" height="2"/><rect x="982.5" y="820.5" width="2" height="2"/></g>
<text x="980" y="830" font-size="2.6" fill="#777">https://doi.org/xxxx</text>
<text x="980" y="835" font-size="2.6" fill="#777">Disclosures: please E-mail info@conjustar.com</text>
</svg>
</body></html>
